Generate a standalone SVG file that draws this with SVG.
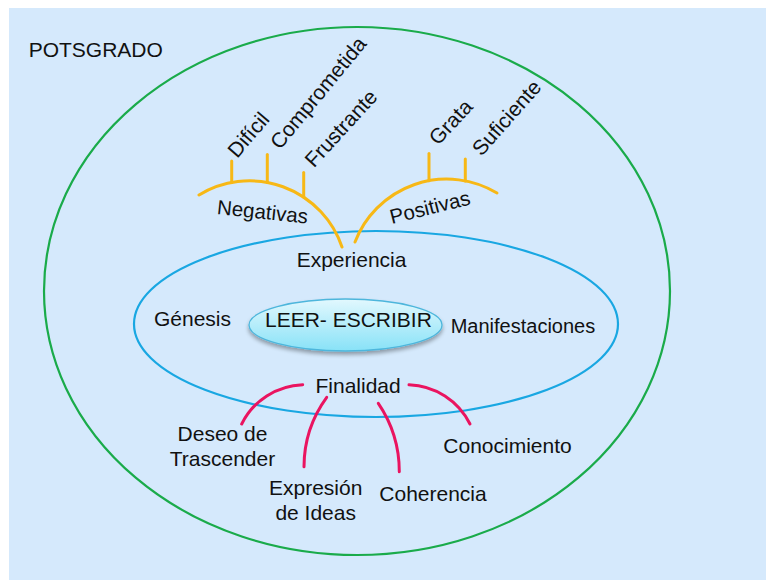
<svg xmlns="http://www.w3.org/2000/svg" width="766" height="580" viewBox="0 0 766 580">
  <defs>
    <linearGradient id="gLeer" x1="0" y1="0" x2="0" y2="1">
      <stop offset="0" stop-color="#e2f8fe"/>
      <stop offset="1" stop-color="#88e2f7"/>
    </linearGradient>
    <filter id="shadow" x="-20%" y="-30%" width="140%" height="170%">
      <feGaussianBlur in="SourceAlpha" stdDeviation="2"/>
      <feOffset dx="0" dy="3" result="b"/>
      <feComponentTransfer><feFuncA type="linear" slope="0.35"/></feComponentTransfer>
      <feMerge><feMergeNode/><feMergeNode in="SourceGraphic"/></feMerge>
    </filter>
  </defs>
  <style>
    text { font-family: "Liberation Sans", Arial, sans-serif; fill: #111; font-size: 21px; }
    .curve { font-size: 20.5px; }
    .orange { fill: none; stroke: #f7b816; stroke-width: 3; stroke-linecap: round; }
    .pink { fill: none; stroke: #ea1460; stroke-width: 3; stroke-linecap: round; }
  </style>

  <rect x="9" y="8" width="757" height="572" fill="#d5e9fc"/>

  <g id="potsgrado">
    <ellipse cx="357" cy="291" rx="313" ry="264" fill="none" stroke="#1aab4a" stroke-width="2.2"/>
    <text x="28.7" y="57.3">POTSGRADO</text>
  </g>

  <g id="contexto">
    <ellipse cx="376" cy="324" rx="242" ry="93" fill="none" stroke="#19a7e2" stroke-width="2.2"/>
  </g>

  <g id="connectors">
    <path class="orange" d="M199,195 A97.6,97.6 0 0 1 342,247"/>
    <path class="orange" d="M355,242 A98.2,98.2 0 0 1 497,193"/>
    <line class="orange" x1="231.7" y1="161" x2="231.7" y2="182.5"/>
    <line class="orange" x1="267.3" y1="154.5" x2="267.3" y2="182.5"/>
    <line class="orange" x1="303.7" y1="172.5" x2="303.7" y2="197"/>
    <line class="orange" x1="429" y1="153.5" x2="429" y2="180.7"/>
    <line class="orange" x1="465.3" y1="159" x2="465.3" y2="181"/>
    <path class="pink" d="M241.7,424 A70.8,70.8 0 0 1 302.7,384.7"/>
    <path class="pink" d="M304,466.7 A118,118 0 0 1 326.7,397.3"/>
    <path class="pink" d="M378.3,403.3 A121,121 0 0 1 399.3,471.7"/>
    <path class="pink" d="M409,384.7 A70.8,70.8 0 0 1 470,424"/>
  </g>

  <g id="leer-escribir">
    <ellipse cx="345.5" cy="325" rx="96.5" ry="26" fill="url(#gLeer)" stroke="#4db6dc" stroke-width="1.3" filter="url(#shadow)"/>
    <text x="265" y="327.3">LEER- ESCRIBIR</text>
  </g>

  <g id="experiencia"><text x="296.7" y="266.7">Experiencia</text></g>
  <g id="genesis"><text x="154" y="326">Génesis</text></g>
  <g id="manifestaciones"><text x="450.7" y="332.7" style="font-size:20px">Manifestaciones</text></g>
  <g id="finalidad"><text x="315.5" y="393">Finalidad</text></g>

  <g id="negativas"><text class="curve" transform="translate(216.5,214) rotate(6)">Negativas</text></g>
  <g id="positivas"><text class="curve" transform="translate(391.8,224) rotate(-14)">Positivas</text></g>

  <g id="dificil"><text transform="translate(237.2,158.9) rotate(-49.5)">Difícil</text></g>
  <g id="comprometida"><text transform="translate(279.9,150.5) rotate(-50.5)">Comprometida</text></g>
  <g id="frustrante"><text transform="translate(314,168.4) rotate(-47.5)">Frustrante</text></g>
  <g id="grata"><text transform="translate(438.1,146.2) rotate(-47)">Grata</text></g>
  <g id="suficiente"><text transform="translate(481.4,157) rotate(-48.5)">Suficiente</text></g>

  <g id="deseo" text-anchor="middle">
    <text x="222.5" y="440.7">Deseo de</text>
    <text x="222.5" y="466">Trascender</text>
  </g>
  <g id="expresion" text-anchor="middle">
    <text x="315.7" y="495">Expresión</text>
    <text x="315.7" y="520.4">de Ideas</text>
  </g>
  <g id="coherencia"><text x="379.3" y="501">Coherencia</text></g>
  <g id="conocimiento"><text x="443.3" y="452.7">Conocimiento</text></g>
</svg>
